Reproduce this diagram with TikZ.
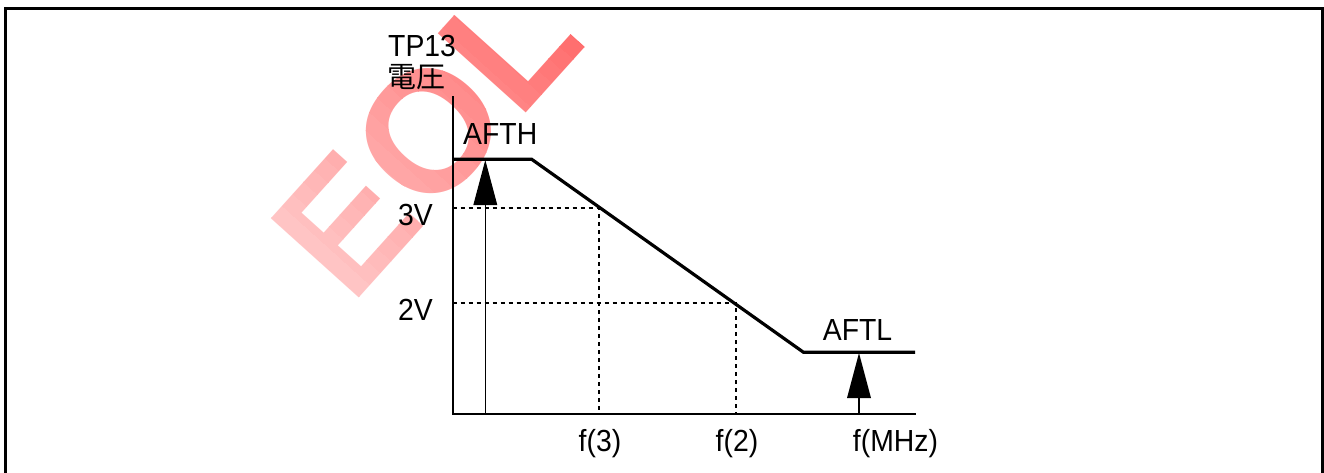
\documentclass[tikz,border=0pt]{standalone}
\usepackage{fontspec}
\setmainfont{Liberation Sans}
\newfontfamily\labfont[FakeStretch=0.93]{Liberation Sans}
\newfontfamily\cjk{Noto Sans CJK JP}
\tikzset{
  lbl/.style={inner sep=0pt, font=\labfont\fontsize{30.5}{31}\selectfont, text=black},
  axis/.style={line width=2pt, line cap=rect},
  curve/.style={line width=3.2pt, line join=miter},
  guide/.style={line width=1.8pt, dash pattern=on 4pt off 4pt},
  stem/.style={line width=1.3pt},
  tip/.style={fill=black},
  frame/.style={line width=3pt},
  wmark/.style={inner sep=0pt, anchor=base west, transform shape,
                font=\fontsize{172}{172}\selectfont\bfseries}
}
\begin{document}
\begin{tikzpicture}[x=1pt,y=1pt]
  \useasboundingbox (0,0) rectangle (1324,-473);
  % watermark (faded in bands)
  \begin{scope}[shift={(351.6,-306.3)}, rotate=48]
    \foreach \i in {0,...,23}{
      \pgfmathsetmacro\pc{20+38*\i/23}
      \begin{scope}
        \clip (-20+16*\i,-80) rectangle (-20+16*\i+16.5,220);
        \node[wmark, text=red!\pc] (wm\i) at (0,0) {EOL};
      \end{scope}
    }
  \end{scope}
  % frame
  \coordinate (fbl) at (5,-490);
  \coordinate (ftl) at (5,-9);
  \coordinate (ftr) at (1322,-9);
  \coordinate (fbr) at (1322,-490);
  \draw[frame] (fbl) -- (ftl) -- (ftr) -- (fbr);
  % axes
  \coordinate (O) at (452.7,-414.3);
  \coordinate (ytop) at (452.7,-96.7);
  \coordinate (xend) at (915,-414.3);
  \draw[axis] (ytop) -- (O) -- (xend);
  % curve
  \coordinate (h0) at (452.7,-159.3);
  \coordinate (h1) at (531.7,-159.3);
  \coordinate (l0) at (803.5,-352.3);
  \coordinate (l1) at (915,-352.3);
  \draw[curve] (h0) -- (h1) -- (l0) -- (l1);
  % guides
  \coordinate (y3) at (452.7,-208.3);
  \coordinate (p3) at (599,-208.3);
  \coordinate (x3) at (599,-414.3);
  \coordinate (y2) at (452.7,-303.3);
  \coordinate (p2) at (736,-303.3);
  \coordinate (x2) at (736,-414.3);
  \draw[guide] (y3) -- (p3) -- (x3);
  \draw[guide] (y2) -- (p2) -- (x2);
  % AFTH arrow
  \coordinate (ahb) at (485.3,-414.3);
  \coordinate (ahs) at (485.3,-204);
  \coordinate (aht) at (485.3,-160);
  \draw[stem] (ahb) -- (ahs);
  \fill[tip] (aht) -- (473.3,-205) -- (497.3,-205) -- cycle;
  % AFTL arrow
  \coordinate (alb) at (859,-414.3);
  \coordinate (als) at (859,-397);
  \coordinate (alt) at (859,-353);
  \draw[stem] (alb) -- (als);
  \fill[tip] (alt) -- (847,-398) -- (871,-398) -- cycle;
  % labels
  \node[lbl, anchor=base west] (tp) at (388,-57) {TP13};
  \node[lbl, anchor=west, font=\cjk\fontsize{29}{30}\selectfont] (dy) at (387,-77) {電圧};
  \node[lbl, anchor=base west] (afth) at (463,-145) {AFTH};
  \node[lbl, anchor=base east] (v3) at (433,-225) {3V};
  \node[lbl, anchor=base east] (v2) at (433,-320) {2V};
  \node[lbl, anchor=base] (aftl) at (857.5,-340) {AFTL};
  \node[lbl, anchor=base] (f3) at (600,-451) {f(3)};
  \node[lbl, anchor=base] (f2) at (737,-451) {f(2)};
  \node[lbl, anchor=base] (fm) at (895.5,-451) {f(MHz)};
\end{tikzpicture}
\end{document}
